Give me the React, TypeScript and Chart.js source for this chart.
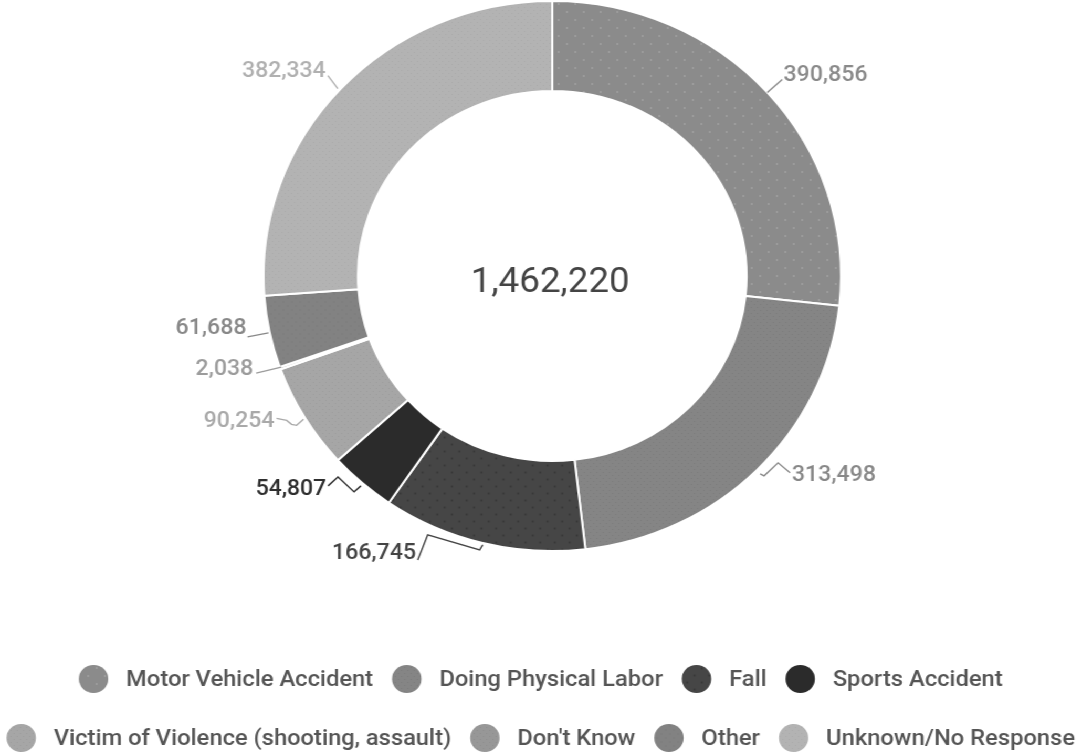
import React, { useEffect, useRef } from "react";
import { Chart, registerables } from "chart.js";

Chart.register(...registerables);

// ---------- data ----------
const categories = [
  "Motor Vehicle Accident",
  "Doing Physical Labor",
  "Fall",
  "Sports Accident",
  "Victim of Violence (shooting, assault)",
  "Don't Know",
  "Other",
  "Unknown/No Response",
];
const values = [390856, 313498, 166745, 54807, 90254, 2038, 61688, 382334];

// ---------- styles ----------
const baseColors = ["#8b8b8b", "#858585", "#464646", "#2b2b2b", "#a6a6a6", "#979797", "#828282", "#b3b3b3"];
const dotColors = ["#a3a3a3", "#7c7c7c", "#363636", null, "#9c9c9c", "#8d8d8d", "#777777", "#aaaaaa"];
const dotSpacing = [8, 3, 7, 0, 3, 3, 4, 3];
const labelColors = ["#8a8a8a", "#888888", "#444444", "#2e2e2e", "#a9a9a9", "#9c9c9c", "#888888", "#b0b0b0"];

// leader polylines and text offsets relative to each slice's outer mid-point (unscaled px)
type LabelStyle = { leader: number[][]; text: number[]; align: CanvasTextAlign };
const labelStyles: LabelStyle[] = [
  { leader: [[0, 0], [14.3, -13]], text: [15.5, -17], align: "left" },
  { leader: [[2.9, 4], [6.7, 6], [20, -7], [31.4, 3]], text: [33.3, 6], align: "left" },
  { leader: [[0, 2], [-2.9, 7], [-52.4, -8], [-61.9, 17]], text: [-63.5, 11], align: "right" },
  { leader: [[-1, 3], [-7.6, 9], [-22.9, -6], [-32.4, 3]], text: [-34, 7], align: "right" },
  { leader: [[-1, 2], [-7.6, 8], [-12.4, 7], [-17.1, 3], [-26.7, 1]], text: [-28.6, 4], align: "right" },
  { leader: [[1, -1], [-22.9, 5]], text: [-25.7, 1], align: "right" },
  { leader: [[-1, 1], [-21, 5]], text: [-22, -3], align: "right" },
  { leader: [[-2.9, 0], [-12.4, -13]], text: [-14.3, -17], align: "right" },
];

const SCALE_X = 1.05;
const W = 1030;
const H = 754;
const LEGEND_ROWS = [[0, 1, 2, 3], [4, 5, 6, 7]];
const LEGEND_Y = [679, 738];

function makeFill(i: number): string | CanvasPattern {
  const dot = dotColors[i];
  const sp = dotSpacing[i];
  if (!dot || !sp) return baseColors[i];
  const size = sp * 2;
  const c = document.createElement("canvas");
  c.width = size;
  c.height = size;
  const g = c.getContext("2d")!;
  g.fillStyle = baseColors[i];
  g.fillRect(0, 0, size, size);
  g.fillStyle = dot;
  const r = sp >= 6 ? 0.9 : 0.6;
  const pts = [[sp / 2, sp / 2], [sp + sp / 2, sp + sp / 2]];
  pts.forEach(([x, y]) => {
    g.beginPath();
    g.arc(x, y, r, 0, Math.PI * 2);
    g.fill();
  });
  const p = g.createPattern(c, "repeat");
  return p || baseColors[i];
}

const FONT = "Roboto, 'Noto Sans', sans-serif";

const outLabels = {
  id: "outLabels",
  afterDatasetsDraw(chart: any) {
    const ctx: CanvasRenderingContext2D = chart.ctx;
    const meta = chart.getDatasetMeta(0);
    let cx = 0;
    let cy = 0;
    meta.data.forEach((arc: any, i: number) => {
      const p = arc.getProps(["x", "y", "startAngle", "endAngle", "outerRadius"], true);
      cx = p.x;
      cy = p.y;
      const a = (p.startAngle + p.endAngle) / 2;
      const ax = p.x + Math.cos(a) * p.outerRadius;
      const ay = p.y + Math.sin(a) * p.outerRadius;
      const s = labelStyles[i];
      ctx.save();
      ctx.strokeStyle = labelColors[i];
      ctx.lineWidth = 1.4;
      ctx.lineJoin = "miter";
      ctx.beginPath();
      s.leader.forEach(([dx, dy], j) => {
        if (j === 0) ctx.moveTo(ax + dx, ay + dy);
        else ctx.lineTo(ax + dx, ay + dy);
      });
      ctx.stroke();
      ctx.fillStyle = labelColors[i];
      ctx.font = `500 22px ${FONT}`;
      ctx.textAlign = s.align;
      ctx.textBaseline = "middle";
      ctx.fillText(values[i].toLocaleString("en-US"), ax + s.text[0], ay + s.text[1]);
      ctx.restore();
    });
    const total = values.reduce((t, v) => t + v, 0);
    ctx.save();
    ctx.fillStyle = "#444444";
    ctx.font = `400 35px ${FONT}`;
    ctx.textAlign = "center";
    ctx.textBaseline = "middle";
    ctx.fillText(total.toLocaleString("en-US"), cx - 2, cy + 7);
    ctx.restore();
  },
};

const customLegend = {
  id: "customLegend",
  afterDraw(chart: any) {
    const ctx: CanvasRenderingContext2D = chart.ctx;
    const bgs = chart.data.datasets[0].backgroundColor;
    const r = 14;
    const gap1 = 17;
    const gap2 = 18;
    ctx.save();
    ctx.font = `500 22.6px ${FONT}`;
    LEGEND_ROWS.forEach((row, ri) => {
      const widths = row.map((i) => 2 * r + gap1 + ctx.measureText(categories[i]).width);
      const total = widths.reduce((t, w) => t + w, 0) + gap2 * (row.length - 1);
      let x = chart.width / 2 - total / 2;
      const y = LEGEND_Y[ri];
      row.forEach((i, k) => {
        ctx.fillStyle = bgs[i];
        ctx.beginPath();
        ctx.arc(x + r, y, r, 0, Math.PI * 2);
        ctx.fill();
        ctx.fillStyle = "#555555";
        ctx.textAlign = "left";
        ctx.textBaseline = "middle";
        ctx.fillText(categories[i], x + 2 * r + gap1, y + 1);
        x += widths[k] + gap2;
      });
    });
    ctx.restore();
  },
};

export default function App() {
  const ref = useRef<HTMLCanvasElement | null>(null);
  useEffect(() => {
    if (!ref.current) return;
    const fills = categories.map((_, i) => makeFill(i));
    const chart = new Chart(ref.current, {
      type: "doughnut",
      data: {
        labels: categories,
        datasets: [
          {
            data: values,
            backgroundColor: fills as any,
            borderColor: "#ffffff",
            borderWidth: 2,
          },
        ],
      },
      options: {
        responsive: false,
        animation: false,
        radius: 275,
        cutout: "67.3%",
        events: [],
        layout: { padding: { left: 22, right: 0, top: 0, bottom: 202 } },
        plugins: {
          legend: { display: false },
          tooltip: { enabled: false },
        },
      } as any,
      plugins: [outLabels, customLegend],
    });
    return () => chart.destroy();
  }, []);
  return (
    <div
      style={{
        position: "absolute",
        left: 0,
        top: 0,
        width: W,
        height: H,
        transform: `scaleX(${SCALE_X})`,
        transformOrigin: "0 0",
        background: "#ffffff",
      }}
    >
      <canvas ref={ref} width={W} height={H} style={{ display: "block", width: W, height: H }} />
    </div>
  );
}
